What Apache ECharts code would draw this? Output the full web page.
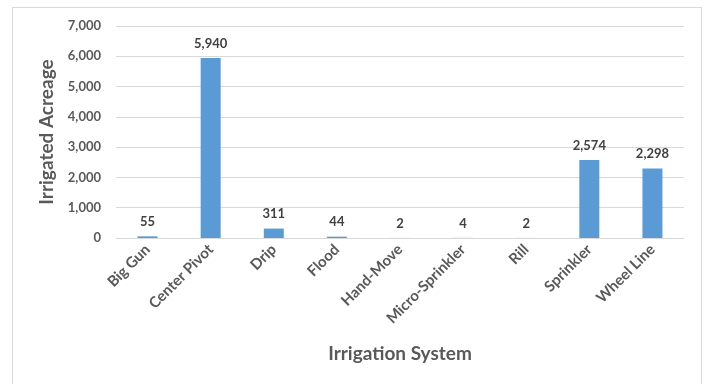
<!DOCTYPE html>
<html>
<head>
<meta charset="utf-8">
<script src="https://cdn.jsdelivr.net/npm/echarts@6/dist/echarts.min.js"></script>
<style>
  html, body { margin: 0; padding: 0; background: #fff; }
  #frame { position: absolute; left: 12px; top: 7px; width: 690px; height: 390px; border: 1px solid #d9d9d9; box-sizing: border-box; }
  #chart { width: 706px; height: 384px; position: absolute; left: 0; top: 0; }
</style>
</head>
<body>
<div id="frame"></div>
<div id="chart"></div>
<script>
const systems = ['Big Gun', 'Center Pivot', 'Drip', 'Flood', 'Hand-Move', 'Micro-Sprinkler', 'Rill', 'Sprinkler', 'Wheel Line'];
const acreage = [55, 5940, 311, 44, 2, 4, 2, 2574, 2298];
const yTicks = [0, 1000, 2000, 3000, 4000, 5000, 6000, 7000];

const FONT = 'Lato';
const chart = echarts.init(document.getElementById('chart'));
chart.setOption({
  animation: false,
  textStyle: { fontFamily: FONT },
  grid: { left: 116, right: 22, top: 26, bottom: 146, containLabel: false },
  xAxis: {
    type: 'category',
    data: systems,
    name: 'Irrigation System',
    nameLocation: 'middle',
    nameGap: 106,
    nameTextStyle: { fontSize: 19, fontWeight: 'bold', color: '#595959', fontFamily: FONT },
    axisLine: { lineStyle: { color: '#d9d9d9' } },
    axisTick: { show: false },
    axisLabel: { rotate: 45, fontSize: 15, fontWeight: 'bold', color: '#595959', margin: 9, interval: 0 }
  },
  yAxis: {
    type: 'value',
    min: yTicks[0],
    max: yTicks[yTicks.length - 1],
    interval: 1000,
    name: 'Irrigated Acreage',
    nameLocation: 'middle',
    nameGap: 60,
    nameTextStyle: { fontSize: 19, fontWeight: 'bold', color: '#595959', fontFamily: FONT },
    axisLine: { show: false },
    axisTick: { show: false },
    splitLine: { lineStyle: { color: '#d9d9d9' } },
    axisLabel: {
      fontSize: 13, fontWeight: 'bold', color: '#595959', margin: 15,
      formatter: v => v.toLocaleString('en-US')
    }
  },
  series: [{
    type: 'bar',
    data: acreage,
    barWidth: 20,
    itemStyle: { color: '#5b9bd5' },
    label: {
      show: true, position: 'top', distance: 8,
      fontSize: 13, fontWeight: 'bold', color: '#404040',
      formatter: p => p.value.toLocaleString('en-US')
    }
  }]
});
</script>
</body>
</html>
